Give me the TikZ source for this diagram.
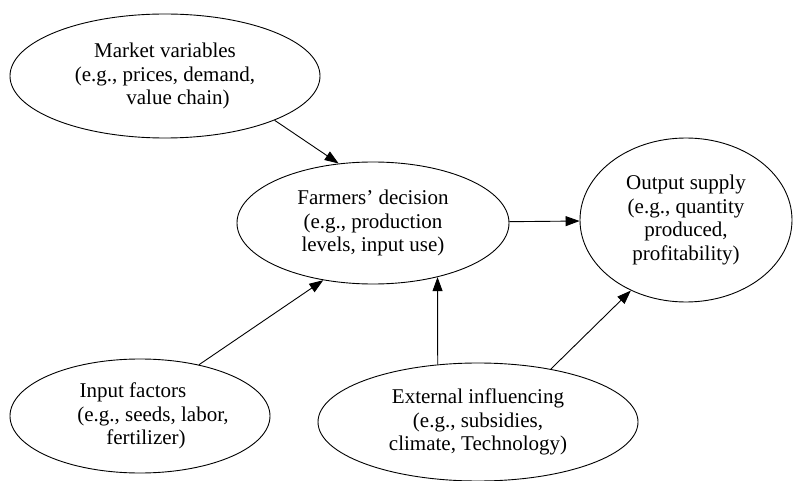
\documentclass[tikz,border=0pt]{standalone}
\usepackage{fontspec}
\setmainfont{Liberation Serif}
\usetikzlibrary{shapes.geometric,arrows.meta}
\begin{document}
\begin{tikzpicture}[x=1pt,y=-1pt,
  bubble/.style={ellipse,draw,line width=0.9pt,inner sep=0pt,align=center,
    font=\fontsize{21}{23.5}\selectfont},
  arr/.style={line width=0.9pt,-{Triangle[length=14pt,width=10pt]}}]
\useasboundingbox (0,0) rectangle (793,481);
% the five factors
\node[bubble,minimum width=310pt,minimum height=124pt] (market) at (165,76)
  {Market variables\\(e.g., prices, demand,\\\hspace*{26pt}value chain)};
\node[bubble,minimum width=272pt,minimum height=122pt] (farmers) at (373,223)
  {Farmers’ decision\\(e.g., production\\levels, input use)};
\node[bubble,minimum width=212pt,minimum height=164pt] (output) at (686,220)
  {Output supply\\(e.g., quantity\\produced,\\profitability)};
\node[bubble,inner xsep=-16pt,minimum width=260pt,minimum height=114pt] (input) at (140,416)
  {\hspace*{-14pt}Input factors\\\hspace*{26pt}(e.g., seeds, labor,\\\hspace*{12pt}fertilizer)};
\node[bubble,minimum width=320pt,minimum height=118pt] (external) at (478,422)
  {External influencing\\(e.g., subsidies,\\climate, Technology)};
% influences
\draw[arr] (market.-22.7) -- (farmers.120.5);
\draw[arr] (input.41) -- (farmers.229);
\draw[arr] (external.125.7) -- (farmers.-40);
\draw[arr] (external.36.9) -- (output.232.4);
\draw[arr] (farmers) -- (output);
\end{tikzpicture}
\end{document}
